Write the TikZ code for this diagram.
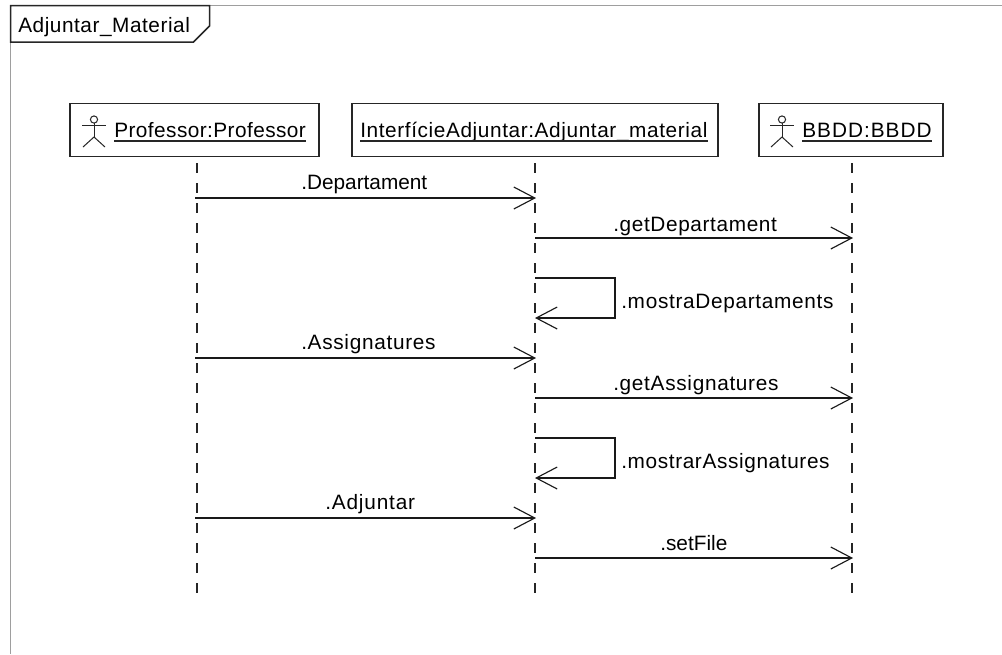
\documentclass[tikz,border=0pt]{standalone}
\usepackage{fontspec}
\setmainfont{Liberation Sans}
\usetikzlibrary{arrows.meta}
\newdimen\px \px=0.75pt
\tikzset{
  objbox/.style={draw=black!85,line width=1.5\px,inner sep=0pt,fill=white},
  txtsp/.style={inner sep=0pt,anchor=base west,font=\fontsize{15.6pt}{18pt}\selectfont\addfontfeature{LetterSpace=#1}},
  ulinestyle/.style={line width=1.2\px,black!85},
  lifeline/.style={line width=1.3\px,black!85,dash pattern=on 10\px off 10\px},
  msg/.style={line width=1.4\px,black!90,-{Straight Barb[length=15.75pt,width=16.5pt,line width=0.85pt]}},
  msgright/.style={msg,shorten >=-0.75pt},
  actorline/.style={line width=1\px,black!85},
  framegray/.style={line width=1.5\px,black!38}
}
\newcommand{\actorfig}[1]{%
  \draw[actorline] (#1,119.5) circle (3.6);
  \draw[actorline] (#1,123) -- (#1,137);
  \draw[actorline] (#1-12,125.5) -- (#1+12,125.5);
  \draw[actorline] (#1-11,147) -- (#1,137) -- (#1+11,147);
}
\begin{document}
\begin{tikzpicture}[x=0.75pt,y=-0.75pt]
\useasboundingbox (0,0) rectangle (1002,654);
% frame
\coordinate (ftr) at (1002,5.5);
\coordinate (fbl) at (10.5,654);
\coordinate (ftl) at (10.5,5.5);
\draw[framegray] (ftl) -- (ftr);
\draw[framegray] (ftl) -- (fbl);
\draw[line width=1.5\px,black!85,fill=white] (10.5,5.5) -- (209.5,5.5) -- (209.5,26) -- (193.5,42) -- (10.5,42) -- cycle;
\node[txtsp=2.6] (title) at (18,32.5) {Adjuntar\_Material};
% object boxes
\node[objbox,minimum width=249\px,minimum height=53\px] (bP) at (194.5,130) {};
\node[objbox,minimum width=366\px,minimum height=53\px] (bI) at (535,130) {};
\node[objbox,minimum width=184\px,minimum height=53\px] (bB) at (851,130) {};
\actorfig{94}
\actorfig{782}
\node[txtsp=2.1] (nP) at (114,137.5) {Professor:Professor};
\node[txtsp=2.9] (nI) at (360,137.5) {InterfícieAdjuntar:Adjuntar\_material};
\node[txtsp=4.8] (nB) at (802,137.5) {BBDD:BBDD};
\foreach \n in {nP,nI,nB}
  \draw[ulinestyle] ([yshift=-3.5\px]\n.base west) -- ([yshift=-3.5\px]\n.base east);
% lifelines
\coordinate (lPt) at (197,163); \coordinate (lPb) at (197,593);
\coordinate (lIt) at (535,163); \coordinate (lIb) at (535,593);
\coordinate (lBt) at (852,163); \coordinate (lBb) at (852,593);
\draw[lifeline] (lPt) -- (lPb);
\draw[lifeline] (lIt) -- (lIb);
\draw[lifeline] (lBt) -- (lBb);
% message anchors on the lifelines
\foreach \y in {198,238,278,318,358,398,438,478,518,558}{
  \coordinate (P\y) at (195,\y);
  \coordinate (I\y) at (535,\y);
  \coordinate (B\y) at (852,\y);
}
\draw[msgright] (P198) -- (I198);
\draw[msgright] (I238) -- (B238);
\draw[msg] (I278) -- (615,278) -- (615,318) -- (I318);
\draw[msgright] (P358) -- (I358);
\draw[msgright] (I398) -- (B398);
\draw[msg] (I438) -- (615,438) -- (615,478) -- (I478);
\draw[msgright] (P518) -- (I518);
\draw[msgright] (I558) -- (B558);
\node[txtsp=0] (m1) at (301,189) {.Departament};
\node[txtsp=3] (m2) at (613,231) {.getDepartament};
\node[txtsp=3.3] (m3) at (621,308.5) {.mostraDepartaments};
\node[txtsp=3.3] (m4) at (301,349.5) {.Assignatures};
\node[txtsp=3.3] (m5) at (613,390.5) {.getAssignatures};
\node[txtsp=3] (m6) at (621,468) {.mostrarAssignatures};
\node[txtsp=4] (m7) at (325,509.5) {.Adjuntar};
\node[txtsp=0] (m8) at (660,550) {.setFile};
\end{tikzpicture}
\end{document}
